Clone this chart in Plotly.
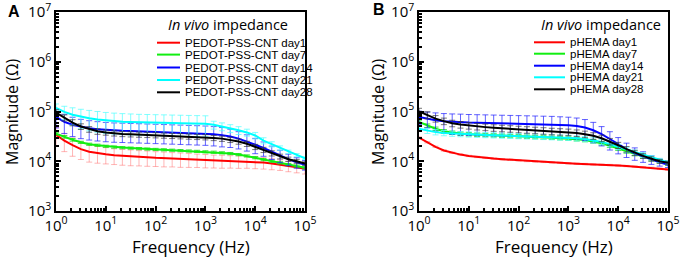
import plotly.graph_objects as go

# ---------------- data ----------------
freq = [1, 1.47, 2.15, 3.16, 4.64, 6.81, 10, 14.7, 21.5, 31.6, 46.4, 68.1,
        100, 147, 215, 316, 464, 681, 1000, 1470, 2150, 3160, 4640, 6810,
        10000, 14700, 21500, 31600, 46400, 68100, 100000]

days = ["day1", "day7", "day14", "day21", "day28"]
tick_vals_x = [1, 10, 100, 1000, 10000, 100000]
tick_text_x = ["10<sup>0</sup>", "10<sup>1</sup>", "10<sup>2</sup>", "10<sup>3</sup>", "10<sup>4</sup>", "10<sup>5</sup>"]
tick_vals_y = [1e3, 1e4, 1e5, 1e6, 1e7]
tick_text_y = ["10<sup>3</sup>", "10<sup>4</sup>", "10<sup>5</sup>", "10<sup>6</sup>", "10<sup>7</sup>"]

# Panel A: PEDOT-PSS-CNT, magnitude in kOhm
a_day1 = [34, 26, 21, 17.5, 15.5, 14.5, 13.8, 13.2, 12.8, 12.5, 12.2, 12.0, 11.7, 11.5, 11.3, 11.1, 10.9, 10.7,
          10.5, 10.3, 10.2, 10.1, 10.0, 9.9, 9.7, 9.4, 9.0, 8.6, 8.1, 7.6, 7.1]
a_day7 = [36, 31, 27, 24, 22, 21, 20, 19.3, 18.8, 18.4, 18.0, 17.6, 17.3, 17.0, 16.7, 16.4, 16.1, 15.8,
          15.5, 15.2, 14.8, 14.3, 13.6, 12.8, 11.8, 10.8, 10.0, 9.3, 8.6, 8.0, 7.4]
a_day14 = [78, 62, 54, 49, 46, 44, 42.5, 41.5, 41, 40.5, 40, 39.5, 39, 38.5, 38, 37.5, 37, 36.5,
           36, 35, 33.5, 31.5, 28.5, 25, 21.5, 18.5, 15.5, 13, 11, 9.5, 8.5]
a_day21 = [118, 98, 86, 78, 73, 69, 66, 64, 62.5, 61.5, 60.5, 60, 59.5, 59, 58.5, 58, 57.5, 57,
           56.5, 54, 50, 46, 42, 38, 33, 26, 22, 18.5, 15.5, 13.3, 11.5]
a_day28 = [95, 75, 60, 50, 44, 40, 38, 36.5, 35.5, 35, 34.5, 34, 33.5, 33, 32.5, 32, 31.5, 31,
           30.5, 29.5, 28.5, 27, 25, 22.5, 19.5, 17, 14.5, 12.5, 11, 10, 9]
# error bars in percent of the value
a_err1 = [40, 40, 40, 38, 38, 37, 36, 35, 35, 35, 34, 34, 33, 33, 32, 32, 31, 30,
          30, 29, 29, 28, 28, 27, 27, 26, 25, 24, 24, 23, 22]
a_err7 = [6, 6, 6, 5, 5, 5, 5, 5, 5, 5, 5, 5, 5, 5, 5, 5, 5, 5,
          5, 5, 5, 5, 5, 5, 5, 5, 5, 5, 5, 5, 5]
a_err14 = [40, 42, 42, 42, 42, 42, 42, 42, 42, 42, 42, 42, 42, 42, 42, 42, 42, 42,
           42, 42, 42, 40, 38, 36, 34, 32, 30, 28, 26, 24, 22]
a_err21 = [20, 30, 38, 42, 44, 45, 45, 45, 45, 45, 45, 45, 45, 45, 45, 45, 45, 45,
           45, 18, 18, 18, 18, 16, 15, 14, 12, 10, 8, 7, 6]
a_err28 = [14, 14, 14, 13, 13, 13, 12, 12, 12, 12, 12, 12, 12, 12, 12, 12, 12, 12,
           12, 12, 12, 12, 12, 12, 12, 12, 12, 11, 10, 9, 8]

# Panel B: pHEMA, magnitude in kOhm
b_day1 = [30, 24, 19.5, 16.5, 14.8, 13.6, 12.8, 12.2, 11.7, 11.3, 11.0, 10.7, 10.4, 10.1, 9.9, 9.7, 9.5, 9.3,
          9.1, 8.9, 8.8, 8.6, 8.5, 8.4, 8.2, 8.0, 7.8, 7.6, 7.4, 7.1, 6.8]
b_day7 = [62, 52, 45, 40, 37.5, 36, 35, 34.3, 33.7, 33.2, 32.7, 32.2, 31.7, 31.2, 30.7, 30.2, 29.7, 29.2,
          28.6, 27.8, 26.8, 25.2, 23, 20.5, 18, 15.8, 14, 12.5, 11, 10, 9]
b_day14 = [78, 72, 67, 64, 62, 61, 60, 59.5, 59, 58.5, 58, 57.5, 57, 56.5, 56, 55.5, 55, 54,
           53, 51, 47.5, 42, 35, 28, 22, 17.5, 14.5, 12.5, 10.8, 9.5, 8.5]
b_day21 = [45, 41, 38.5, 37, 36, 35.3, 34.8, 34.3, 33.8, 33.4, 33, 32.6, 32.2, 31.8, 31.4, 31, 30.6, 30.2,
           29.7, 29, 28, 26.5, 24.5, 22, 19.5, 17, 15, 13.3, 11.8, 10.5, 9.5]
b_day28 = [100, 85, 72, 64, 58, 54.5, 52, 50, 48.5, 47, 46, 45, 44, 43, 42, 41, 40, 39.2,
           38.5, 37, 35, 32.5, 29, 25, 21, 17.5, 14.8, 12.8, 11.2, 10, 9.3]
b_err1 = [3, 3, 3, 3, 3, 3, 3, 3, 3, 3, 3, 3, 3, 3, 3, 3, 3, 3,
          3, 3, 3, 3, 3, 3, 3, 3, 3, 3, 3, 3, 3]
b_err7 = [8, 8, 8, 8, 8, 8, 8, 8, 8, 8, 8, 8, 8, 8, 8, 8, 8, 8,
          8, 8, 8, 8, 8, 8, 8, 8, 8, 8, 8, 8, 8]
b_err14 = [30, 35, 40, 42, 44, 45, 45, 45, 45, 45, 45, 45, 45, 45, 45, 45, 45, 45,
           45, 45, 45, 44, 42, 40, 36, 32, 28, 24, 20, 16, 12]
b_err21 = [12, 12, 12, 12, 12, 12, 12, 12, 12, 12, 12, 12, 12, 12, 12, 12, 12, 12,
           12, 12, 12, 12, 12, 12, 12, 12, 12, 12, 10, 9, 8]
b_err28 = [16, 16, 15, 15, 15, 15, 15, 15, 15, 15, 15, 15, 15, 15, 15, 15, 15, 15,
           15, 15, 15, 15, 15, 15, 14, 13, 12, 11, 10, 9, 8]

# ---------------- styles ----------------
line_colors = ["#ff0000", "#11ee11", "#0000ff", "#00ffff", "#000000"]
err_colors = ["rgba(255,90,90,0.45)", "rgba(20,220,20,0.8)", "rgba(30,30,255,0.7)",
              "rgba(90,255,255,0.75)", "rgba(60,60,60,0.7)"]

fig = go.Figure()

panels = [
    ("x", "y", "PEDOT-PSS-CNT", [a_day1, a_day7, a_day14, a_day21, a_day28],
     [a_err1, a_err7, a_err14, a_err21, a_err28]),
    ("x2", "y2", "pHEMA", [b_day1, b_day7, b_day14, b_day21, b_day28],
     [b_err1, b_err7, b_err14, b_err21, b_err28]),
]

for xa, ya, name, series, errs in panels:
    for i, (vals, pct) in enumerate(zip(series, errs)):
        z = [v * 1000 for v in vals]
        e = [v * 1000 * p / 100 for v, p in zip(vals, pct)]
        fig.add_trace(go.Scatter(
            x=freq, y=z, xaxis=xa, yaxis=ya, mode="lines",
            name=f"{name} {days[i]}",
            line=dict(color=line_colors[i], width=2),
            error_y=dict(type="data", array=e, color=err_colors[i], thickness=1, width=3),
            showlegend=False,
        ))

tickfont = dict(family="Open Sans", size=15, color="black")
axis_common = dict(
    type="log", showline=True, linecolor="black", linewidth=1.5, mirror=True,
    ticks="inside", ticklen=5, tickwidth=1.5, tickcolor="black", automargin=False,
    ticklabeloverflow="allow",
    showgrid=False, zeroline=False, tickfont=tickfont,
    minor=dict(ticks="inside", ticklen=3, tickcolor="black", dtick="D1", showgrid=False),
)

fig.update_layout(
    template="none",
    width=680, height=260,
    margin=dict(l=0, r=0, t=12, b=49, pad=0),
    paper_bgcolor="white", plot_bgcolor="white",
    xaxis=dict(domain=[56 / 680, 305 / 680], range=[0, 5], anchor="y",
               tickvals=tick_vals_x, ticktext=tick_text_x, **axis_common),
    yaxis=dict(domain=[0, 1], range=[3, 7], anchor="x",
               tickvals=tick_vals_y, ticktext=tick_text_y, **axis_common),
    xaxis2=dict(domain=[419 / 680, 668 / 680], range=[0, 5], anchor="y2",
                tickvals=tick_vals_x, ticktext=tick_text_x, **axis_common),
    yaxis2=dict(domain=[0, 1], range=[3, 7], anchor="x2",
                tickvals=tick_vals_y, ticktext=tick_text_y, **axis_common),
)

def py2paper(py):
    return (211 - py) / 199

ann = []
shapes = []

def add_text(text, px, py, size, family="Open Sans", xanchor="left", angle=0):
    ann.append(dict(text=text, x=px / 680, y=py2paper(py), xref="paper", yref="paper",
                    xanchor=xanchor, yanchor="middle", showarrow=False, textangle=angle,
                    font=dict(family=family, size=size, color="black")))

# panel labels
add_text("<b>A</b>", 6, 11, 16, family="Liberation Sans")
add_text("<b>B</b>", 371, 10, 16, family="Liberation Sans")

# axis titles
for xl in (130, 493):
    add_text("Frequency (Hz)", xl, 246, 17)
for xc in (12, 378):
    add_text("Magnitude (Ω)", xc, 112, 16, xanchor="center", angle=-90)

# legends (manual, compact)
legend_specs = [
    ("PEDOT-PSS-CNT", 166, 24, 157, 180, 183, [42.7, 54.6, 67.5, 80.0, 92.3]),
    ("pHEMA", 539, 25, 534, 565, 568, [42.3, 53.7, 65.7, 77.3, 89.3]),
]
for name, tx, ty, lx0, lx1, txx, ys in legend_specs:
    add_text("<i>In vivo</i> impedance", tx, ty, 14.5)
    for i, yy in enumerate(ys):
        shapes.append(dict(type="line", xref="paper", yref="paper", x0=lx0 / 680, x1=lx1 / 680,
                           y0=py2paper(yy), y1=py2paper(yy), line=dict(color=line_colors[i], width=2)))
        add_text(f"{name} {days[i]}", txx, yy, 11.5, family="Liberation Sans")

fig.update_layout(annotations=ann, shapes=shapes)
fig.write_html("out.html", config={"displayModeBar": False},
               post_script="document.body.style.margin='0px';")
